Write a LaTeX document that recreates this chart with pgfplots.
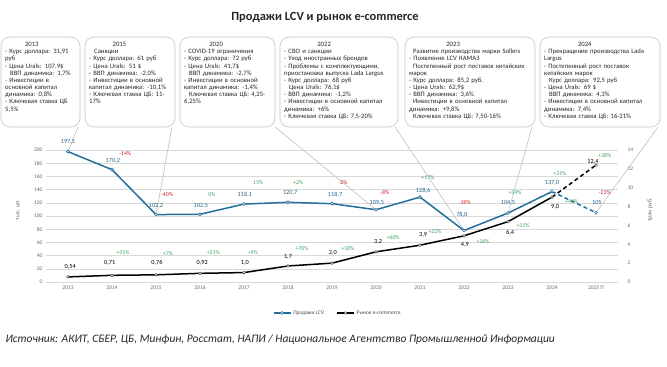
\documentclass[border=0pt]{standalone}
\usepackage{fontspec}
\setmainfont{Carlito}
\usepackage{pgfplots}
\pgfplotsset{compat=1.18}
\definecolor{lcv}{RGB}{36,110,155}
\definecolor{lcvlab}{RGB}{40,100,140}
\definecolor{gr}{RGB}{60,160,90}
\definecolor{rd}{RGB}{200,30,30}
\definecolor{gridc}{RGB}{217,217,217}
\definecolor{boxc}{RGB}{195,195,195}
\newcommand\bx[4]{%
  \draw[boxc, rounded corners=9bp, line width=0.6bp] (#1bp,240bp) rectangle (#2bp,330bp);
  \node[anchor=north west, inner sep=0pt, text width=#3bp, align=left,
        font=\fontsize{6.7}{7.2}\selectfont, text=black!85] at (#1bp+4bp,325bp) {#4};}
\newcommand\yr[1]{\hfil #1\hfil\null}
\begin{document}
\begin{tikzpicture}
\useasboundingbox (0,0) rectangle (667bp,367bp);
\node[font=\bfseries\fontsize{12.5}{14}\selectfont, text=black!85] at (325bp,350bp) {Продажи LCV и рынок e-commerce};
\bx{1}{80}{73}{\yr{2013}\\- Курс доллара: 31,91 руб\\- Цена Urals: 107,9\$\\\hspace*{5bp}ВВП динамика: 1,7\%\\- Инвестиции в основной капитал динамика: 0,8\%\\- Ключевая ставка ЦБ 5,5\%}
\bx{85}{175}{84}{\yr{2015}\\\hspace*{5bp}Санкции\\- Курс доллара: 61 руб\\- Цена Urals: 51 \$\\- ВВП динамика: -2,0\%\\- Инвестиции в основной капитал динамика: -10,1\%\\- Ключевая ставка ЦБ: 11-17\%}
\bx{180}{275}{89}{\yr{2020}\\- COVID-19 ограничения\\- Курс доллара: 72 руб\\- Цена Urals: 41,7\$\\\hspace*{5bp}ВВП динамика: -2,7\%\\- Инвестиции в основной капитал динамика: -1,4\%\\\hspace*{5bp}Ключевая ставка ЦБ: 4,25-6,25\%}
\bx{280}{398}{113}{\yr{2022}\\- СВО и санкции\\- Уход иностранных брендов\\- Проблемы с комплектующими, приостановка выпуска Lada Largus\\- Курс доллара: 68 руб\\\hspace*{5bp}Цена Urals: 76,1\$\\- ВВП динамика: -1,2\%\\- Инвестиции в основной капитал динамика: +6\%\\- Ключевая ставка ЦБ: 7,5-20\%}
\bx{405}{535}{125}{\yr{2023}\\\hspace*{4bp}Развитие производства марки Sollers\\- Появление LCV КАМАЗ\\\hspace*{4bp}Постепенный рост поставок китайских марок\\- Курс доллара: 85,2 руб.\\- Цена Urals: 62,9\$\\- ВВП динамика: 3,6\%\\\hspace*{4bp}Инвестиции в основной капитал динамика: +9,8\%\\\hspace*{4bp}Ключевая ставка ЦБ: 7,50-16\%}
\bx{540}{660}{115}{\yr{2024}\\- Прекращение производства Lada Largus\\- Постепенный рост поставок китайских марок\\\hspace*{5bp}Курс доллара: 92,5 руб\\- Цена Urals: 69 \$\\\hspace*{5bp}ВВП динамика: 4,3\%\\- Инвестиции в основной капитал динамика: 7,4\%\\- Ключевая ставка ЦБ: 16-21\%}

\begin{axis}[
  at={(46bp,85bp)}, anchor=south west, width=572bp, height=132bp, scale only axis,
  xmin=-0.5, xmax=12.5, ymin=0, ymax=200,
  axis line style={draw=none}, tick style={draw=none},
  xtick={0,...,12},
  xticklabels={2013,2014,2015,2016,2017,2018,2019,2020,2021,2022,2023,2024,2025 П},
  ytick={0,20,...,200}, ymajorgrids, grid style={gridc, line width=0.6bp},
  tick label style={font=\fontsize{5.5}{6}\selectfont, text=black!60},
  /pgf/number format/assume math mode=true,
  clip=false,
]
\draw[black!25, line width=0.6bp] (axis cs:0.227,234.8) -- (axis cs:0,197.5);
\draw[black!25, line width=0.6bp] (axis cs:2.364,234.8) -- (axis cs:2,102.2);
\draw[black!25, line width=0.6bp] (axis cs:4.705,234.8) -- (axis cs:7,109.5);
\draw[black!25, line width=0.6bp] (axis cs:7.432,234.8) -- (axis cs:9,78.0);
\draw[black!25, line width=0.6bp] (axis cs:10.545,234.8) -- (axis cs:10,104.5);
\draw[black!25, line width=0.6bp] (axis cs:13.41,234.8) -- (axis cs:12,105);
\addplot[lcv, line width=1.5bp, mark=*, mark size=1.5bp, mark options={fill=white, line width=0.6bp}]
  coordinates {(0,197.5)(1,170.2)(2,102.2)(3,102.5)(4,118.1)(5,120.7)(6,118.7)(7,109.5)(8,128.6)(9,78.0)(10,104.5)(11,137.0)};
\addplot[lcv, line width=1.5bp, dash pattern=on 4bp off 3bp] coordinates {(11,137.0)(12,105)};
\addplot[lcv, only marks, mark=*, mark size=1.5bp, mark options={fill=white, line width=0.6bp}] coordinates {(12,105)};
\begin{scope}[font=\fontsize{6.3}{7}\selectfont, text=lcvlab]
\node at (axis cs:0,212) {197,5};
\node at (axis cs:1.02,183) {170,2};
\node at (axis cs:2.0,115) {102,2};
\node at (axis cs:3.02,115) {102,5};
\node at (axis cs:4.02,132) {118,1};
\node at (axis cs:5.05,135) {120,7};
\node at (axis cs:6.07,132) {118,7};
\node at (axis cs:7.02,120) {109,5};
\node at (axis cs:8.07,138) {128,6};
\node at (axis cs:8.95,101.5) {78,0};
\node at (axis cs:10.0,120) {104,5};
\node at (axis cs:11.0,150) {137,0};
\node at (axis cs:12.02,120) {105};
\end{scope}
\begin{scope}[font=\fontsize{5.8}{7}\selectfont]
\node[text=rd] at (axis cs:1.3,195) {-14\%};
\node[text=rd] at (axis cs:2.25,132) {-40\%};
\node[text=gr] at (axis cs:3.27,132) {0\%};
\node[text=gr] at (axis cs:4.32,150) {15\%};
\node[text=gr] at (axis cs:5.23,150) {+2\%};
\node[text=rd] at (axis cs:6.25,150) {-2\%};
\node[text=rd] at (axis cs:7.2,136) {-8\%};
\node[text=gr] at (axis cs:8.18,159) {+17\%};
\node[text=rd] at (axis cs:9.02,120) {-39\%};
\node[text=gr] at (axis cs:10.16,135) {+34\%};
\node[text=gr] at (axis cs:11.18,165) {+31\%};
\node[text=rd] at (axis cs:12.2,135) {-23\%};
\end{scope}
\end{axis}

\begin{axis}[
  at={(46bp,85bp)}, anchor=south west, width=572bp, height=132bp, scale only axis,
  xmin=-0.5, xmax=12.5, ymin=0, ymax=14,
  axis y line*=right, axis x line=none,
  axis line style={draw=none}, tick style={draw=none},
  ytick={0,2,...,14},
  yticklabel style={xshift=6bp},
  tick label style={font=\fontsize{5.5}{6}\selectfont, text=black!60},
  /pgf/number format/assume math mode=true,
  clip=false,
  legend style={at={(0.51,-0.235)}, anchor=center, draw=none, fill=none,
    font=\fontsize{5.5}{6}\selectfont, text=black!70, legend columns=2,
    /tikz/every even column/.append style={column sep=10bp}},
  legend cell align=left,
]
\addlegendimage{lcv, line width=1.5bp, mark=*, mark size=1.5bp, mark options={fill=white, line width=0.6bp}}
\addlegendentry{Продажи LCV}
\addplot[black, line width=1.5bp, mark=*, mark size=1.4bp, mark options={fill=white, draw=black!70, line width=0.5bp}]
  coordinates {(0,0.54)(1,0.71)(2,0.76)(3,0.92)(4,1.0)(5,1.7)(6,2.0)(7,3.2)(8,3.9)(9,4.9)(10,6.4)(11,9.0)};
\addlegendentry{Рынок e-commerce}
\addplot[black, line width=1.5bp, dash pattern=on 4bp off 3bp, forget plot] coordinates {(11,9.0)(12,12.4)};
\addplot[black, only marks, mark=*, mark size=1.4bp, mark options={fill=white, draw=black!70, line width=0.5bp}, forget plot] coordinates {(12,12.4)};
\begin{scope}[font=\fontsize{6.3}{7}\selectfont, text=black]
\node at (axis cs:0.05,1.59) {0,54};
\node at (axis cs:0.95,2.0) {0,71};
\node at (axis cs:2.02,2.0) {0,76};
\node at (axis cs:3.05,2.0) {0,92};
\node at (axis cs:4.02,2.0) {1,0};
\node at (axis cs:5.0,2.65) {1,7};
\node at (axis cs:6.02,3.08) {2,0};
\node at (axis cs:7.05,4.24) {3,2};
\node at (axis cs:8.07,5.0) {3,9};
\node at (axis cs:9.02,3.9) {4,9};
\node at (axis cs:10.05,5.2) {6,4};
\node at (axis cs:11.07,7.95) {9,0};
\node at (axis cs:11.93,12.7) {12,4};
\end{scope}
\begin{scope}[font=\fontsize{5.8}{7}\selectfont, text=gr]
\node at (axis cs:1.25,3.08) {+31\%};
\node at (axis cs:2.27,2.97) {+7\%};
\node at (axis cs:3.3,3.08) {+21\%};
\node at (axis cs:4.2,3.08) {+9\%};
\node at (axis cs:5.32,3.5) {+70\%};
\node at (axis cs:6.36,3.6) {+18\%};
\node at (axis cs:7.39,4.67) {+60\%};
\node at (axis cs:8.34,5.3) {+22\%};
\node at (axis cs:9.43,4.24) {+26\%};
\node at (axis cs:10.34,5.94) {+31\%};
\node at (axis cs:11.45,8.5) {+40\%};
\node at (axis cs:12.2,13.4) {+38\%};
\end{scope}
\end{axis}
\node[rotate=90, font=\fontsize{6}{7}\selectfont, text=black!60] at (18bp,157bp) {тыс. шт.};
\node[rotate=90, font=\fontsize{6}{7}\selectfont, text=black!60] at (650bp,157bp) {трлн руб.};
\node[anchor=west, font=\itshape\fontsize{11.5}{14}\selectfont, text=black!85] at (2bp,27bp) {Источник: АКИТ, СБЕР, ЦБ, Минфин, Росстат, НАПИ / Национальное Агентство Промышленной Информации};
\end{tikzpicture}
\end{document}
